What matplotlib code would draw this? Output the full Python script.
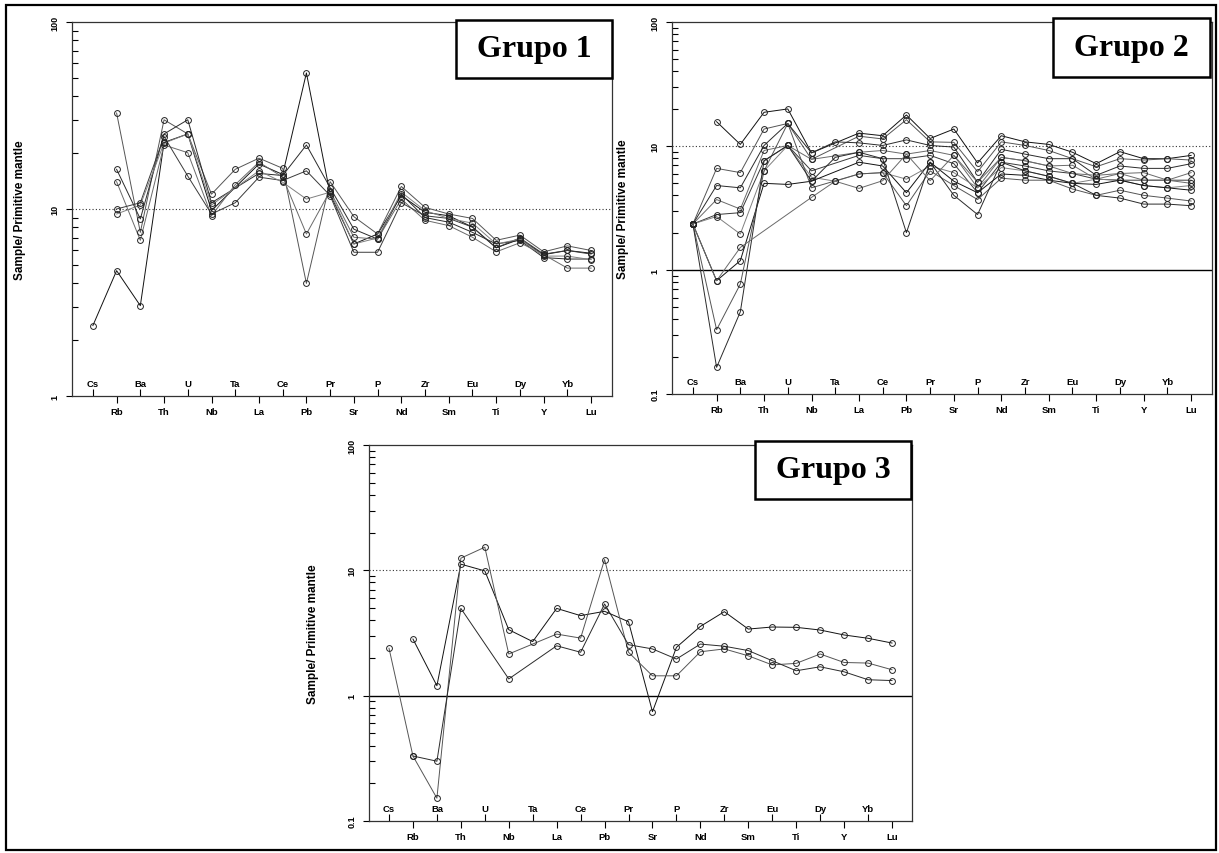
import numpy as np
import matplotlib
matplotlib.use('Agg')
import matplotlib.pyplot as plt
import matplotlib.transforms as mtransforms
from matplotlib.patches import Rectangle
from matplotlib.ticker import LogLocator, NullFormatter, FixedLocator

nan = np.nan
elements = ['Cs', 'Rb', 'Ba', 'Th', 'U', 'Nb', 'Ta', 'La', 'Ce', 'Pb', 'Pr', 'Sr',
            'P', 'Nd', 'Zr', 'Sm', 'Eu', 'Ti', 'Dy', 'Y', 'Yb', 'Lu']

# ---------------- Grupo 1 ----------------
g1_s1 = [2.38, 4.68, 3.04, 22.7, 25.2, 9.8, nan, 17.4, 15.3, 53.4, 12.0, 6.5, 7.35, 11.8, 9.6, 9.2, 8.0, 6.2, 6.9, 5.7, 6.0, 5.8]
g1_s2 = [nan, 32.6, 7.5, 30.0, 25.2, 12.0, 16.3, 18.7, 16.5, 4.0, 14.0, 9.1, 7.35, 13.2, 10.2, 9.4, 8.9, 6.8, 7.25, 5.9, 6.35, 6.0]
g1_s3 = [nan, 16.3, 8.85, 25.2, 30.0, 10.8, nan, 15.5, 15.1, 22.0, 13.0, 7.8, 6.9, 12.0, 9.0, 8.5, 7.5, 6.5, 6.8, 5.5, 5.4, 5.4]
g1_s4 = [nan, 14.0, 6.8, 22.0, 20.0, 9.2, 13.5, 17.8, 14.8, 7.35, 12.5, 7.06, 6.9, 11.3, 8.7, 8.15, 7.06, 5.9, 6.6, 5.7, 4.83, 4.83]
g1_s5 = [nan, 10.0, 10.8, 24.4, 15.0, 9.4, 10.8, 14.8, 14.2, 16.0, 11.8, 5.87, 5.87, 10.8, 9.2, 8.9, 8.0, 6.2, 7.0, 5.74, 6.0, 5.74]
g1_s6 = [nan, 9.4, 10.5, 22.5, 25.2, 10.5, nan, 16.0, 13.9, 11.3, 12.3, 6.5, 7.0, 12.3, 9.8, 8.9, 8.4, 6.5, 6.9, 5.6, 5.6, 5.36]

# ---------------- Grupo 2 ----------------
g2_s1 = [nan, 15.7, 10.3, 18.7, 19.9, 8.8, nan, 12.7, 12.1, 17.8, 11.5, 13.7, 7.3, 12.1, 10.8, 10.3, 8.9, 7.2, 9.0, 7.9, 7.9, 8.4]
g2_s2 = [2.35, 6.6, 6.1, 13.7, 15.2, 7.8, nan, 12.0, 11.4, 16.3, 10.8, 10.7, 6.2, 10.8, 10.1, 9.2, 7.9, 6.8, 7.9, 7.7, 7.9, 7.7]
g2_s3 = [2.35, 4.8, 4.6, 10.1, 15.2, 8.8, 10.8, 10.6, 10.1, 11.2, 10.1, 9.8, 5.1, 9.4, 8.6, 7.9, 7.9, 5.8, 6.9, 6.6, 6.6, 7.2]
g2_s4 = [2.35, 3.7, 3.1, 9.2, 10.1, 7.8, nan, 8.9, 9.2, 8.6, 9.2, 8.4, 4.6, 8.1, 7.6, 6.9, 7.0, 5.4, 6.0, 6.1, 5.3, 6.1]
g2_s5 = [2.35, 2.8, 2.9, 7.6, 10.1, 6.3, nan, 8.4, 7.9, 7.9, 8.4, 7.2, 4.2, 7.4, 6.9, 6.3, 6.0, 5.4, 5.3, 5.3, 5.3, 5.3]
g2_s6 = [2.35, 2.7, 1.95, 6.3, 10.1, 5.6, 5.2, 5.95, 6.1, 5.4, 6.9, 6.1, 4.6, 6.7, 6.3, 5.7, 5.0, 5.4, 5.3, 4.8, 4.6, 4.8]
g2_s7 = [2.35, 0.82, 1.19, 5.0, 4.9, 5.2, nan, 7.4, 6.9, 4.2, 7.4, 5.2, 4.2, 5.95, 5.8, 5.3, 5.0, 4.9, 5.3, 4.8, 4.6, 4.4]
g2_s8 = [2.35, 0.33, 0.77, 6.3, 15.2, 4.6, nan, 5.95, 6.1, 3.3, 6.3, 4.8, 3.7, 5.5, 5.3, 5.3, 4.5, 4.0, 4.4, 4.0, 3.8, 3.6]
g2_s9 = [2.35, 0.164, 0.46, 7.6, 10.1, 5.2, 8.1, 8.9, 7.9, 2.0, 7.4, 4.0, 2.8, 7.4, 6.3, 5.7, 5.0, 4.0, 3.8, 3.4, 3.4, 3.3]
g2_s10 = [2.35, 0.82, 1.52, nan, nan, 3.85, 5.2, 4.55, 5.25, 8.6, 5.25, 8.4, 5.1, 8.1, 7.6, 6.9, 6.0, 5.8, 6.0, 5.3, 5.3, 5.0]

# ---------------- Grupo 3 ----------------
g3_s1 = [nan, 2.83, 1.2, 11.2, 9.9, 3.36, 2.7, 4.97, 4.35, 4.71, 3.89, 0.745, 2.43, 3.57, 4.68, 3.40, 3.53, 3.51, 3.34, 3.05, 2.87, 2.63]
g3_s2 = [2.39, 0.33, 0.152, 12.5, 15.3, 2.15, nan, 3.1, 2.88, 12.2, 2.22, 1.44, 1.44, 2.24, 2.36, 2.08, 1.76, 1.81, 2.15, 1.84, 1.82, 1.61]
g3_s3 = [nan, 0.33, 0.30, 4.97, nan, 1.36, nan, 2.5, 2.22, 5.39, 2.55, 2.36, 1.96, 2.58, 2.48, 2.29, 1.90, 1.58, 1.70, 1.55, 1.34, 1.32]

group1 = [g1_s1, g1_s2, g1_s3, g1_s4, g1_s5, g1_s6]
group2 = [g2_s1, g2_s2, g2_s3, g2_s4, g2_s5, g2_s6, g2_s7, g2_s8, g2_s9, g2_s10]
group3 = [g3_s1, g3_s2, g3_s3]

W, H = 1219, 854
fig = plt.figure(figsize=(W / 100, H / 100), dpi=100)
fig.patch.set_facecolor('white')


def rect_px(x0, y0, x1, y1):
    return [x0 / W, 1 - y1 / H, (x1 - x0) / W, (y1 - y0) / H]


panels = [
    dict(rect=(72, 23, 612, 397), ylim=(1, 100), yt=[1, 10, 100], ytl=['1', '10', '100'],
         data=group1, title='Grupo 1', box=(456, 21, 612, 79), ylab=-46, xm=0.88, one=False),
    dict(rect=(672, 23, 1212, 395), ylim=(0.1, 100), yt=[0.1, 1, 10, 100], ytl=['0.1', '1', '10', '100'],
         data=group2, title='Grupo 2', box=(1053, 19, 1210, 78), ylab=-43, xm=0.88, one=True),
    dict(rect=(369, 446, 912, 822), ylim=(0.1, 100), yt=[0.1, 1, 10, 100], ytl=['0.1', '1', '10', '100'],
         data=group3, title='Grupo 3', box=(755, 442, 911, 500), ylab=-50, xm=0.835, one=True),
]

colors = ['#111111', '#555555', '#2a2a2a', '#6a6a6a', '#3a3a3a', '#808080']
x = np.arange(len(elements))
lab_font = dict(family='Liberation Sans', fontweight='bold', fontsize=6.8)

for p in panels:
    ax = fig.add_axes(rect_px(*p['rect']))
    ax.set_yscale('log')
    ax.set_ylim(*p['ylim'])
    ax.set_xlim(-p['xm'], len(elements) - 1 + p['xm'])
    ax.set_facecolor('white')

    for k, s in enumerate(p['data']):
        y = np.array(s, dtype=float)
        m = ~np.isnan(y)
        c = colors[k % len(colors)]
        ax.plot(x[m], y[m], '-', color=c, lw=0.7, zorder=3)
        ax.plot(x[m], y[m], 'o', ms=4.2, mfc='none', mec='#222222', mew=0.7, zorder=4)

    ax.axhline(10, color='#333333', lw=0.8, ls=(0, (1, 2)), zorder=2)
    if p['one']:
        ax.axhline(1, color='black', lw=1.0, zorder=2)

    for sp in ax.spines.values():
        sp.set_color('#333333')
        sp.set_linewidth(0.9)

    # y axis
    ax.yaxis.set_major_locator(FixedLocator(p['yt']))
    ax.set_yticklabels(p['ytl'], rotation=90, va='center', family='Liberation Sans',
                       fontweight='bold', fontsize=6.5)
    ax.yaxis.set_minor_locator(LogLocator(base=10, subs=np.arange(2, 10)))
    ax.yaxis.set_minor_formatter(NullFormatter())
    ax.tick_params(axis='y', which='major', direction='out', length=4, width=0.8, pad=5, right=False)
    ax.tick_params(axis='y', which='minor', direction='in', length=4, width=0.8, right=False)

    # x axis: odd elements below, even elements inside
    odd = x[1::2]
    even = x[0::2]
    ax.set_xticks(odd)
    ax.set_xticklabels([elements[i] for i in odd], **lab_font)
    ax.set_xticks(even, minor=True)
    ax.tick_params(axis='x', which='major', direction='out', length=5, width=0.8, pad=3, top=False)
    ax.tick_params(axis='x', which='minor', direction='in', length=5, width=0.8, top=False)
    trans = mtransforms.offset_copy(ax.get_xaxis_transform(), fig=fig, x=0, y=5.5, units='points')
    for i in even:
        ax.text(i, 0, elements[i], transform=trans, ha='center', va='bottom', **lab_font)

    ax.set_ylabel('Sample/ Primitive mantle', family='Liberation Sans', fontweight='bold', fontsize=8.5)
    w_px = p['rect'][2] - p['rect'][0]
    ax.yaxis.set_label_coords(p['ylab'] / w_px, 0.5)

    # title box
    bx0, by0, bx1, by1 = p['box']
    fig.add_artist(Rectangle((bx0 / W, 1 - by1 / H), (bx1 - bx0) / W, (by1 - by0) / H,
                             transform=fig.transFigure, facecolor='white', edgecolor='black',
                             lw=1.8, zorder=10))
    fig.text((bx0 + bx1) / 2 / W, 1 - (by0 + by1) / 2 / H, p['title'], ha='center', va='center',
             family='Liberation Serif', fontweight='bold', fontsize=23, zorder=11)

# outer frame
fig.add_artist(Rectangle((6 / W, 1 - 851 / H), (1216 - 6) / W, (851 - 6) / H, transform=fig.transFigure,
                         facecolor='none', edgecolor='black', lw=1.6, zorder=12))

fig.savefig('out.png', dpi=100)
